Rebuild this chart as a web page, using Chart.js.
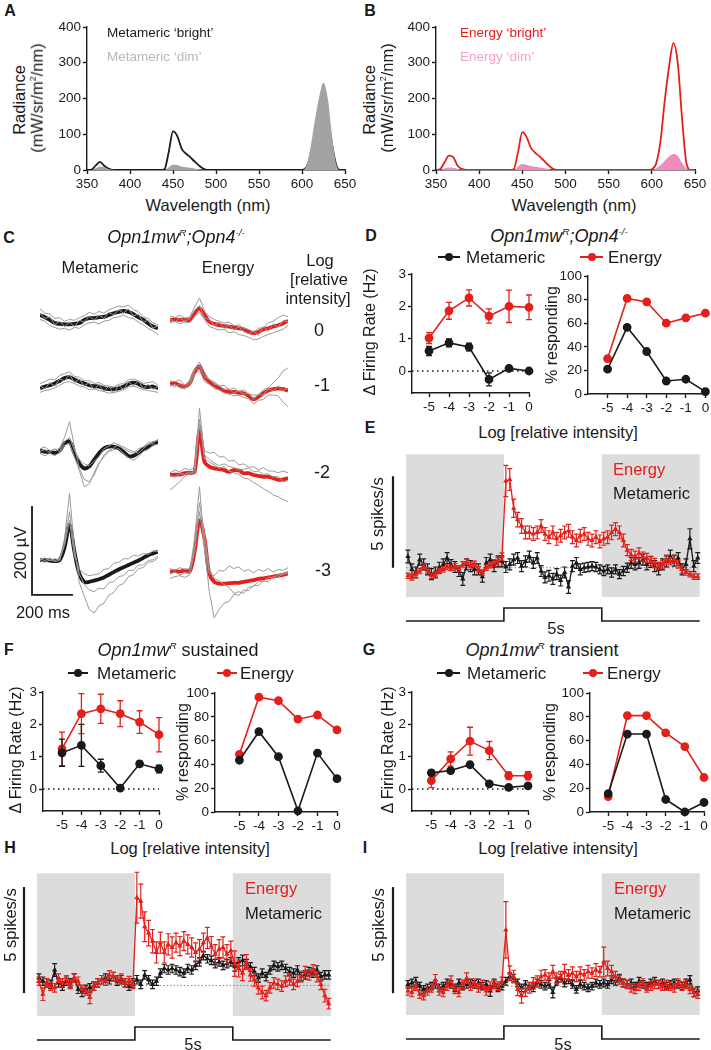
<!DOCTYPE html>
<html>
<head>
<meta charset="utf-8">
<script src="https://cdn.jsdelivr.net/npm/chart.js@4.4.0/dist/chart.umd.min.js"></script>
<style>
  body { margin: 0; background: #fff; }
  #fig { position: relative; width: 711px; height: 1050px; overflow: hidden;
         font-family: "Liberation Sans", Arial, sans-serif; color: #1a1a1a; }
  #fig canvas { position: absolute; }
  .t { position: absolute; white-space: nowrap; line-height: 1; }
  .t sup { font-size: 0.55em; vertical-align: 0.75em; line-height: 0; }
  .mk { position: absolute; }
</style>
</head>
<body>
<div id="fig"></div>
<script>
// ---------- data: spectra (A, B) ----------
const wavelengths = [350,355,360,365,370,375,380,385,390,395,400,405,410,415,420,425,430,435,440,445,450,455,460,465,470,475,480,485,490,495,
  500,505,510,515,520,525,530,535,540,545,550,555,560,565,570,575,580,585,590,595,600,605,610,615,620,625,630,635,640,645,650];
const metaBright = [0,1,12,23,12,4,0,0,0,0,0,0,0,0,0,0,0,0,2,50,108,95,60,46,36,24,13,4,0,0,
  0,0,0,0,0,0,0,0,0,0,0,0,0,0,0,0,0,0,0,0,0,8,40,85,125,158,145,70,12,0,0];
const metaDim = [0,0,5,10,8,3,1,0,0,0,0,0,0,0,0,0,0,0,0,8,15,14,10,8,6,4,2,1,0,0,
  0,0,0,0,0,0,0,0,0,0,0,0,0,0,0,0,0,0,0,0,0,12,65,140,205,244,200,95,15,0,0];
const energyBright = [0,3,22,40,36,12,3,0,0,0,0,0,0,0,0,0,0,0,2,50,106,92,62,48,38,26,14,4,0,0,
  0,0,0,0,0,0,0,0,0,0,0,0,0,0,0,0,0,0,0,0,2,18,80,195,290,355,300,145,20,0,0];
const energyDim = [0,0,5,7,6,3,1,0,0,0,0,0,0,0,0,0,0,0,0,10,17,15,11,9,7,5,3,1,0,0,
  0,0,0,0,0,0,0,0,0,0,0,0,0,0,0,0,0,0,0,0,0,4,14,26,38,45,40,20,4,0,0];
const wavelengthTicks = [350,400,450,500,550,600,650];
const radianceTicks = [0,100,200,300,400];

// ---------- data: example traces (C), microvolts vs ms ----------
const traceMs = [0,24,48,72,96,120,144,168,192,216,240,264,288,312,336,360,384,408,432,456,480,504,528,552,576];
const metaMean0 = [18,13,7,0,-2,-3,-3,-2,0,7,11,11,13,14,18,22,25,27,25,20,13,7,-1,-8,-12];
const metaGray0 = [
  [32,22,20,10,12,4,8,6,12,16,24,20,26,22,30,34,38,36,40,30,26,14,10,0,-4],
  [8,4,-6,-10,-14,-12,-16,-10,-12,-4,0,2,-2,4,6,12,14,18,12,10,2,-4,-12,-18,-26],
  [22,10,14,-4,4,-8,2,-8,6,2,16,6,18,10,24,18,30,22,32,16,20,2,6,-12,-6]];
const energyMean0 = [7,8,7,8,7,22,33,18,3,-2,-5,-7,-8,-10,-12,-14,-20,-23,-20,-14,-12,-8,-5,-1,5];
const energyGray0 = [
  [16,12,18,10,14,36,56,28,14,8,4,0,2,-6,-4,-12,-14,-20,-12,-10,0,4,12,18,14],
  [0,4,-2,2,0,14,24,8,-8,-12,-16,-14,-22,-20,-26,-28,-32,-38,-36,-30,-26,-22,-18,-14,-6],
  [10,2,12,4,10,28,40,12,8,-6,2,-12,-4,-16,-8,-20,-24,-18,-28,-8,-18,-2,-10,6,2]];
const metaMean1 = [-3,1,4,8,14,20,22,17,12,8,4,2,1,-3,-5,-5,-3,1,7,10,7,1,0,1,-3];
const metaGray1 = [
  [8,12,18,16,26,30,34,24,22,14,14,8,10,4,2,0,6,8,16,18,14,8,10,12,4],
  [-12,-8,-6,-2,4,10,12,8,2,0,-6,-4,-8,-10,-14,-12,-10,-6,0,2,-2,-6,-8,-10,-12],
  [2,-4,10,2,18,14,28,10,18,2,10,-6,6,-10,2,-14,4,-6,12,2,14,-4,6,-6,2]];
const energyMean1 = [7,8,4,1,8,34,46,23,12,4,-3,-8,-11,-11,-13,-14,-20,-28,-22,-14,-8,-5,-3,-5,-8];
const energyGray1 = [
  [14,12,16,4,14,40,56,34,16,12,2,4,-6,-2,-10,-6,-16,-18,-18,-6,-2,10,20,36,43],
  [2,6,-2,-4,4,28,38,12,6,-4,-6,-14,-16,-20,-18,-24,-26,-38,-30,-28,-18,-18,-20,-34,-44],
  [6,0,8,-2,10,36,48,22,18,6,4,-6,-4,-14,-8,-16,-14,-28,-16,-18,-4,-8,2,-8,-2]];
const metaMean2 = [10,7,7,5,10,26,30,4,-19,-30,-26,-11,4,15,19,19,15,7,-2,-2,5,13,19,25,30];
const metaGray2 = [
  [14,18,10,12,14,40,75,20,-30,-55,-60,-45,-20,0,10,16,24,14,8,4,14,18,28,30,34],
  [4,-2,4,-2,6,22,26,-4,-35,-71,-65,-40,-18,-4,8,12,14,4,-6,-12,-4,8,12,22,24],
  [8,12,6,14,8,30,40,10,-10,-20,-24,-14,-4,14,20,28,22,18,12,8,4,14,24,26,36]];
const energyMean2 = [-45,-44,-44,-41,-40,-38,56,-15,-26,-30,-32,-34,-38,-34,-35,-41,-41,-45,-47,-49,-49,-52,-56,-55,-52];
const energyGray2 = [
  [-79,-70,-60,-48,-42,-36,105,0,-10,-18,-24,-20,-26,-28,-34,-32,-30,-38,-36,-44,-42,-50,-48,-60,-58],
  [-40,-34,-38,-30,-34,-28,80,-8,-16,-22,-30,-26,-36,-40,-44,-52,-54,-62,-68,-76,-82,-90,-94,-100,-105],
  [-46,-50,-42,-44,-38,-42,70,10,4,6,-4,-4,-14,-12,-22,-20,-28,-26,-34,-28,-36,-36,-40,-36,-40]];
const metaMean3 = [11,11,10,9,11,40,90,30,-20,-38,-38,-35,-32,-28,-22,-16,-10,-5,0,5,10,16,22,26,30];
const metaGray3 = [
  [12,16,10,14,12,60,161,40,-40,-70,-100,-108,-92,-86,-68,-62,-46,-42,-26,-22,-8,-6,6,8,16],
  [10,6,12,8,10,50,120,30,-20,-44,-56,-60,-52,-54,-40,-38,-26,-24,-12,-12,0,0,10,12,20],
  [14,10,16,10,14,44,100,20,-10,-20,-24,-22,-20,-10,-8,4,6,14,14,22,20,26,24,32,30]];
const energyMean3 = [-15,-14,-15,-12,-15,30,100,60,-20,-38,-42,-42,-41,-40,-40,-38,-36,-34,-31,-30,-28,-26,-24,-22,-19];
const energyGray3 = [
  [-20,-16,-22,-18,-18,60,176,40,-60,-119,-100,-86,-82,-66,-68,-56,-58,-46,-46,-36,-38,-26,-28,-18,-20],
  [-8,-12,-6,-10,-8,40,140,70,-10,-30,-36,-44,-50,-64,-60,-64,-50,-48,-38,-36,-28,-28,-22,-22,-14],
  [-30,-26,-24,-28,-22,30,120,50,-20,-24,-12,-14,-2,-8,-4,-14,-10,-18,-10,-14,-8,-16,-10,-12,-6]];
const scaleBarUV = 200, scaleBarMs = 200;

// ---------- data: intensity response (D, F, G) ----------
const logIntensity = [-5,-4,-3,-2,-1,0];
const rateTicks = [0,1,2,3];
const pctTicks = [0,20,40,60,80,100];
const rateEnergyD = [1.02,1.86,2.26,1.7,2.0,1.97];
const rateEnergyDErr = [0.17,0.26,0.25,0.22,0.5,0.38];
const rateMetaD = [0.62,0.87,0.74,-0.26,0.08,0.0];
const rateMetaDErr = [0.14,0.12,0.12,0.2,0.06,0.04];
const pctEnergyD = [30,81,78,60,64.5,68.5];
const pctMetaD = [21,56.5,36,11,12.5,2];
const rateEnergyF = [1.24,2.33,2.48,2.33,2.07,1.68];
const rateEnergyFErr = [0.52,0.62,0.45,0.4,0.35,0.53];
const rateMetaF = [1.12,1.35,0.72,0.03,0.78,0.62];
const rateMetaFErr = [0.42,0.65,0.2,0.04,0.08,0.12];
const pctEnergyF = [48.5,96.5,93.5,78,81.5,69];
const pctMetaF = [43.5,67.5,46.5,1,49.5,28];
const rateEnergyG = [0.26,0.93,1.48,1.19,0.41,0.41];
const rateEnergyGErr = [0.22,0.22,0.43,0.28,0.12,0.13];
const rateMetaG = [0.5,0.57,0.75,0.16,0.05,0.1];
const rateMetaGErr = [0.08,0.06,0.08,0.04,0.03,0.05];
const pctEnergyG = [13,81,81,66.5,55,29];
const pctMetaG = [15.5,65.5,65.5,10.5,0,8];

// ---------- data: PSTHs (E, H, I), spikes/s above baseline ----------
const binTimes = [0.1,0.3,0.5,0.7,0.9,1.1,1.3,1.5,1.7,1.9,2.1,2.3,2.5,2.7,2.9,3.1,3.3,3.5,3.7,3.9,4.1,4.3,4.5,4.7,4.9,
  5.1,5.3,5.5,5.7,5.9,6.1,6.3,6.5,6.7,6.9,7.1,7.3,7.5,7.7,7.9,8.1,8.3,8.5,8.7,8.9,9.1,9.3,9.5,9.7,9.9,
  10.1,10.3,10.5,10.7,10.9,11.1,11.3,11.5,11.7,11.9,12.1,12.3,12.5,12.7,12.9,13.1,13.3,13.5,13.7,13.9,14.1,14.3,14.5,14.7,14.9];
const lightOffRanges = [[0,5],[10,15]];
const stimTimes = [0,5,5,10,10,15];
const stimLevels = [0,0,1,1,0,0];
const energyE = [-0.44,-0.53,-0.35,-0.18,0.09,-0.14,-0.44,-0.35,-0.18,-0.09,0.04,0,0.09,-0.04,0.18,0.32,0.09,0.21,-0.09,-0.26,0,0.14,0.26,0.35,0.61,
  4.74,4.82,3.25,2.63,2.28,1.93,1.93,1.84,1.93,2.28,1.84,1.67,1.93,1.58,1.75,1.93,2.02,1.67,1.49,1.75,1.84,1.58,1.49,1.67,1.44,
  1.58,1.67,1.93,2.11,1.93,1.49,0.96,0.7,0.61,0.79,0.61,0.53,0.35,0.26,0.09,0.18,0.44,0.35,0.44,0.18,-0.09,-0.26,-0.35,-0.49,-0.49];
const energyEErr = [0.15,0.15,0.18,0.15,0.15,0.15,0.15,0.15,0.15,0.15,0.15,0.15,0.15,0.15,0.15,0.15,0.18,0.15,0.15,0.15,0.15,0.15,0.18,0.2,0.2,
  0.85,0.6,0.5,0.4,0.4,0.35,0.35,0.35,0.35,0.35,0.35,0.35,0.35,0.35,0.35,0.35,0.35,0.35,0.35,0.35,0.35,0.35,0.35,0.35,0.35,
  0.35,0.35,0.4,0.35,0.35,0.35,0.3,0.3,0.3,0.3,0.25,0.25,0.25,0.25,0.2,0.2,0.25,0.2,0.2,0.2,0.2,0.15,0.15,0.15,0.15];
const metaE = [0.61,-0.09,-0.26,0.44,0.18,-0.09,-0.35,-0.26,0,0.18,0.53,0.14,0.04,-0.18,-0.61,0.18,0.09,-0.09,-0.09,-0.49,0.26,0.44,0.09,0.35,0.35,
  0.04,0.18,0.44,0.53,0.09,0.35,0.61,0.26,0.53,-0.18,-0.53,-0.44,-0.61,-0.35,-0.7,-0.26,-1.05,0.09,0.26,-0.09,0,0.04,0.09,0.04,-0.09,
  -0.18,-0.09,-0.26,-0.09,-0.35,-0.18,0,0.26,0.18,0.26,0.44,0.18,0.32,0.09,-0.09,0.18,0.35,0.61,0.39,0.53,-0.09,0.18,1.58,0.09,0.53];
const metaEErr = [0.35,0.3,0.3,0.3,0.3,0.3,0.3,0.3,0.3,0.3,0.3,0.3,0.3,0.3,0.35,0.3,0.3,0.3,0.3,0.3,0.3,0.3,0.3,0.3,0.3,
  0.3,0.3,0.3,0.3,0.3,0.3,0.3,0.3,0.3,0.3,0.3,0.3,0.3,0.3,0.3,0.3,0.35,0.3,0.3,0.3,0.25,0.25,0.25,0.25,0.25,
  0.25,0.25,0.25,0.25,0.25,0.25,0.25,0.3,0.3,0.3,0.3,0.3,0.3,0.3,0.3,0.3,0.3,0.35,0.3,0.3,0.3,0.3,0.55,0.3,0.3];
const energyH = [0.2,-0.41,0.12,-0.03,-0.11,0.35,0.12,0.27,0.05,0.35,0.2,-0.18,-0.26,-0.56,-0.03,0.12,0.27,0.2,0.5,0.42,0.27,0.35,0.12,0.23,0.05,
  4.14,3.98,2.77,2.47,2.09,1.56,2.02,1.56,1.94,1.79,2.02,1.86,2.09,1.94,1.79,1.56,1.71,2.02,2.24,1.86,1.48,1.71,1.79,1.48,1.64,
  1.03,0.8,0.58,1.11,0.5,0.27,-0.11,-0.33,-0.48,-0.11,0.12,0.05,-0.03,0.2,0.27,0.05,0.2,0.42,0.65,0.5,0.73,0.42,0.05,-0.48,-0.86];
const energyHErr = [0.2,0.3,0.2,0.2,0.2,0.2,0.2,0.2,0.2,0.2,0.2,0.2,0.2,0.3,0.2,0.2,0.2,0.2,0.2,0.2,0.2,0.2,0.2,0.2,0.2,
  1.2,0.8,0.7,0.6,0.55,0.5,0.5,0.5,0.5,0.5,0.45,0.45,0.45,0.45,0.45,0.45,0.45,0.45,0.5,0.45,0.45,0.45,0.5,0.45,0.45,
  0.6,0.4,0.35,0.35,0.3,0.3,0.3,0.3,0.25,0.25,0.25,0.25,0.25,0.25,0.25,0.25,0.25,0.25,0.25,0.25,0.25,0.25,0.25,0.3,0.25];
const metaH = [0.35,0.2,0.12,0.05,0.73,0.12,-0.03,0.2,0.12,0.35,-0.18,-0.33,-0.18,-0.11,-0.03,0.12,0.27,0.35,0.27,0.42,0.2,0.27,0.12,-0.03,0.12,
  0.27,0.05,0.5,0.27,0.05,0.2,0.58,0.8,0.73,0.8,0.73,0.65,0.58,0.8,0.73,0.95,1.11,1.41,1.26,1.18,1.03,1.11,0.95,1.03,1.11,
  0.88,1.11,1.18,1.03,0.88,0.65,0.35,0.58,0.42,0.73,0.95,0.88,0.95,0.8,0.65,0.58,0.73,0.42,0.5,0.65,0.58,0.73,0.42,0.5,0.5];
const metaHErr = [0.2,0.2,0.2,0.2,0.3,0.2,0.2,0.2,0.2,0.2,0.2,0.2,0.2,0.2,0.2,0.2,0.2,0.2,0.2,0.2,0.2,0.2,0.2,0.2,0.2,
  0.2,0.2,0.2,0.2,0.2,0.2,0.2,0.2,0.2,0.2,0.2,0.2,0.2,0.2,0.2,0.2,0.2,0.2,0.2,0.2,0.2,0.2,0.2,0.2,0.2,
  0.2,0.2,0.25,0.2,0.2,0.2,0.2,0.2,0.2,0.2,0.2,0.2,0.2,0.2,0.2,0.2,0.2,0.2,0.2,0.2,0.2,0.2,0.2,0.2,0.2];
const energyI = [-0.23,-0.3,0,-0.38,-0.45,-0.23,-0.08,0.3,-0.23,-0.3,0,0.23,-0.15,-0.3,0.08,0.38,0,0.15,-0.08,0.08,-0.23,0,0.08,0,0.23,
  2.65,0.61,0.45,-0.15,-0.45,-0.23,-0.08,0.15,0.23,0.45,0.53,0.38,0.68,0.38,0.45,0.68,0.53,0.61,0.45,0.61,0.53,0.68,0.61,0.76,0.68,
  1.14,0.83,0.68,0.45,0.3,0.15,0.08,-0.08,-0.15,0,0.15,-0.08,0,0.08,0.08,0,0.08,0,-0.08,0.15,0,0.08,-0.15,-0.3,-0.38];
const energyIErr = [0.2,0.2,0.2,0.2,0.2,0.2,0.2,0.25,0.2,0.2,0.2,0.25,0.2,0.2,0.2,0.25,0.2,0.2,0.2,0.2,0.2,0.2,0.2,0.2,0.2,
  1.33,0.35,0.3,0.3,0.35,0.25,0.25,0.25,0.25,0.3,0.25,0.25,0.3,0.25,0.25,0.35,0.25,0.3,0.25,0.3,0.25,0.3,0.25,0.3,0.25,
  0.7,0.35,0.3,0.25,0.2,0.2,0.2,0.2,0.2,0.2,0.2,0.2,0.2,0.2,0.2,0.2,0.2,0.2,0.2,0.2,0.2,0.2,0.2,0.2,0.2];
const metaI = [0.08,0.15,0.23,0,-0.15,-0.08,0,0.08,-0.08,0,0.15,0.08,-0.08,0.15,0,0.08,0.15,0.08,0.15,0,0.08,-0.23,0.15,-0.08,0,
  0.23,0.45,0.38,0.15,-0.08,0.08,0,-0.08,0.15,0.08,0,0.08,-0.3,0.23,0.38,0.15,0.3,0.08,-0.15,0.08,0,-0.08,0,0.15,0.08,
  0.15,0.08,0.3,0.23,0.38,0.15,0.08,0.15,0,0.23,0.08,0,0.15,0.23,0.08,0.15,0,0.08,0.15,0.08,0,0.15,0.3,-0.3,-0.23];
const metaIErr = [0.18,0.18,0.18,0.18,0.18,0.18,0.18,0.18,0.18,0.18,0.18,0.18,0.18,0.18,0.18,0.18,0.18,0.18,0.18,0.18,0.18,0.25,0.18,0.18,0.18,
  0.18,0.18,0.18,0.18,0.18,0.18,0.18,0.18,0.18,0.18,0.18,0.18,0.25,0.18,0.18,0.18,0.18,0.18,0.18,0.18,0.18,0.18,0.18,0.18,0.18,
  0.18,0.18,0.18,0.18,0.18,0.18,0.18,0.18,0.18,0.18,0.18,0.18,0.18,0.18,0.18,0.18,0.18,0.18,0.18,0.18,0.18,0.18,0.2,0.2,0.2];

// ---------- styling ----------
const RED = '#e3201b', BLACK = '#1a1a1a', TRACE_GRAY = '#9a9a9a', PINK = '#f08cbb', PINK_TXT = '#f3a2c8',
      GRAY_FILL = '#a3a3a3', GRAY_TXT = '#b8b8b8', SHADE = '#dcdcdc';
Chart.defaults.font.family = '"Liberation Sans", Arial, sans-serif';
Chart.defaults.font.size = 13.5;
Chart.defaults.color = BLACK;

const fig = document.getElementById('fig');

// ---------- plugins ----------
Chart.register({
  id: 'shade',
  beforeDatasetsDraw(chart, args, o) {
    if (!o.ranges) return;
    const { ctx, chartArea: a, scales: { x } } = chart;
    ctx.save();
    ctx.fillStyle = o.color;
    o.ranges.forEach(r => {
      const x0 = x.getPixelForValue(r[0]), x1 = x.getPixelForValue(r[1]);
      ctx.fillRect(x0, a.top, x1 - x0, a.bottom - a.top);
    });
    ctx.restore();
  }
});
Chart.register({
  id: 'zeroLine',
  beforeDatasetsDraw(chart, args, o) {
    if (o.value === undefined) return;
    const { ctx, chartArea: a, scales: { y } } = chart;
    const py = y.getPixelForValue(o.value);
    ctx.save();
    ctx.strokeStyle = o.color; ctx.lineWidth = o.width; ctx.setLineDash(o.dash);
    ctx.beginPath(); ctx.moveTo(a.left, py); ctx.lineTo(a.right, py); ctx.stroke();
    ctx.restore();
  }
});
Chart.register({
  id: 'errorBars',
  afterDatasetDraw(chart, args) {
    const ds = chart.data.datasets[args.index];
    if (!ds.errors) return;
    const ctx = chart.ctx, y = chart.scales.y, cap = ds.cap || 3;
    ctx.save();
    ctx.strokeStyle = ds.borderColor;
    ctx.lineWidth = ds.errWidth || 1.3;
    args.meta.data.forEach((pt, j) => {
      const e = ds.errors[j];
      if (!e) return;
      const y1 = y.getPixelForValue(ds.data[j] + e), y2 = y.getPixelForValue(ds.data[j] - e);
      ctx.beginPath();
      ctx.moveTo(pt.x, y1); ctx.lineTo(pt.x, y2);
      ctx.moveTo(pt.x - cap, y1); ctx.lineTo(pt.x + cap, y1);
      ctx.moveTo(pt.x - cap, y2); ctx.lineTo(pt.x + cap, y2);
      ctx.stroke();
    });
    ctx.restore();
  }
});
Chart.register({
  id: 'rateBar',
  afterDraw(chart, args, o) {
    if (o.from === undefined) return;
    const { ctx, chartArea: a, scales: { y } } = chart;
    const px = a.left - o.offset;
    ctx.save();
    ctx.strokeStyle = BLACK; ctx.lineWidth = 2.2;
    ctx.beginPath(); ctx.moveTo(px, y.getPixelForValue(o.from)); ctx.lineTo(px, y.getPixelForValue(o.to)); ctx.stroke();
    ctx.restore();
  }
});
Chart.register({
  id: 'stim',
  afterDraw(chart, args, o) {
    if (!o.times) return;
    const { ctx, chartArea: a, scales: { x } } = chart;
    ctx.save();
    ctx.strokeStyle = BLACK; ctx.lineWidth = 1.6;
    ctx.beginPath();
    o.times.forEach((t, i) => {
      const px = x.getPixelForValue(t), py = a.bottom + o.base - o.levels[i] * o.rise;
      if (i === 0) ctx.moveTo(px, py); else ctx.lineTo(px, py);
    });
    ctx.stroke();
    ctx.restore();
  }
});
Chart.register({
  id: 'traceBar',
  afterDraw(chart, args, o) {
    if (o.ms === undefined) return;
    const { ctx, scales: { x, y } } = chart;
    const x0 = x.getPixelForValue(o.atMs), y0 = y.getPixelForValue(o.atUV);
    ctx.save();
    ctx.strokeStyle = BLACK; ctx.lineWidth = 1.8;
    ctx.beginPath();
    ctx.moveTo(x0, y.getPixelForValue(o.atUV + o.uv));
    ctx.lineTo(x0, y0);
    ctx.lineTo(x.getPixelForValue(o.atMs + o.ms), y0);
    ctx.stroke();
    ctx.restore();
  }
});

// ---------- helpers ----------
function addChart(b, config) {
  const c = document.createElement('canvas');
  const w = b.r - b.l + b.ml + b.mr, h = b.b - b.t + b.mt + b.mb;
  c.width = w; c.height = h;
  c.style.left = (b.l - b.ml) + 'px'; c.style.top = (b.t - b.mt) + 'px';
  c.style.width = w + 'px'; c.style.height = h + 'px';
  fig.appendChild(c);
  const o = config.options;
  o.responsive = false; o.animation = false; o.devicePixelRatio = 1; o.events = [];
  o.plugins = Object.assign({ legend: { display: false }, tooltip: { enabled: false } }, o.plugins || {});
  o.layout = { padding: b.axes
    ? { left: 0, top: b.mt, right: b.mr, bottom: 0 }
    : { left: b.ml, top: b.mt, right: b.mr, bottom: b.mb } };
  return new Chart(c, config);
}

function axis(min, max, ticks, size) {
  return {
    type: 'linear', min, max,
    afterBuildTicks: s => { s.ticks = ticks.map(v => ({ value: v })); },
    afterFit: s => {
      if (s.isHorizontal()) s.height = size; else s.width = size;
      s.paddingLeft = s.paddingRight = s.paddingTop = s.paddingBottom = 0;
    },
    border: { display: true, color: BLACK, width: 1.4 },
    grid: { display: true, drawOnChartArea: false, drawTicks: true, tickLength: 4, color: BLACK, tickColor: BLACK, tickWidth: 1.4 },
    ticks: { padding: 2, color: BLACK, autoSkip: false, maxRotation: 0, font: { size: 13.5 } }
  };
}

function text(html, x, y, o = {}) {
  const d = document.createElement('div');
  d.className = 't';
  d.innerHTML = html;
  d.style.left = x + 'px'; d.style.top = y + 'px';
  d.style.fontSize = (o.size || 16.5) + 'px';
  if (o.color) d.style.color = o.color;
  if (o.bold) d.style.fontWeight = 'bold';
  d.style.transform = (o.left ? 'translate(0,-50%)' : 'translate(-50%,-50%)') + (o.rotate ? ' rotate(-90deg)' : '');
  fig.appendChild(d);
}

function legendMark(x0, x1, y, color) {
  const l = document.createElement('div');
  l.className = 'mk';
  l.style.cssText += `left:${x0}px;top:${y - 1}px;width:${x1 - x0}px;height:2px;background:${color}`;
  const d = document.createElement('div');
  d.className = 'mk';
  d.style.cssText += `left:${(x0 + x1) / 2 - 4}px;top:${y - 4}px;width:8px;height:8px;border-radius:50%;background:${color}`;
  fig.appendChild(l); fig.appendChild(d);
}

// ---------- A, B: spectra ----------
function spectrum(b, dim, bright, dimColor, brightColor) {
  addChart(b, {
    type: 'line',
    data: { labels: wavelengths, datasets: [
      { data: dim, borderWidth: 0, borderColor: dimColor, backgroundColor: dimColor, fill: 'origin', pointRadius: 0, cubicInterpolationMode: 'monotone' },
      { data: bright, borderWidth: 1.8, borderColor: brightColor, fill: false, pointRadius: 0, cubicInterpolationMode: 'monotone' }
    ] },
    options: { scales: { x: axis(350, 650, wavelengthTicks, 22), y: axis(0, 400, radianceTicks, 50) } }
  });
}
spectrum({ l: 87, t: 27, r: 345, b: 170, ml: 50, mt: 8, mr: 14, mb: 22, axes: true }, metaDim, metaBright, GRAY_FILL, BLACK);
spectrum({ l: 436, t: 27, r: 695, b: 170, ml: 50, mt: 8, mr: 14, mb: 22, axes: true }, energyDim, energyBright, PINK, RED);

// ---------- C: traces ----------
function traceCell(l, r, center, mean, grays, color, bar) {
  const datasets = grays.map(g => ({ data: g, borderColor: TRACE_GRAY, borderWidth: 1, pointRadius: 0, tension: 0, clip: false }));
  datasets.push({ data: mean, borderColor: color, borderWidth: 3.8, pointRadius: 0, tension: 0.35, clip: false });
  addChart({ l, t: center - 80, r, b: center + 80, ml: bar ? 12 : 0, mt: 0, mr: 0, mb: 0 }, {
    type: 'line',
    data: { labels: traceMs, datasets },
    options: {
      scales: { x: { type: 'linear', display: false, min: 0, max: 576 }, y: { display: false, min: -180, max: 180 } },
      plugins: bar ? { traceBar: { ms: scaleBarMs, uv: scaleBarUV, atMs: -39, atUV: -67 } } : {}
    }
  });
}
traceCell(40, 158, 323, metaMean0, metaGray0, BLACK);
traceCell(170, 288, 323, energyMean0, energyGray0, RED);
traceCell(40, 158, 387, metaMean1, metaGray1, BLACK);
traceCell(170, 288, 387, energyMean1, energyGray1, RED);
traceCell(40, 158, 455, metaMean2, metaGray2, BLACK);
traceCell(170, 288, 455, energyMean2, energyGray2, RED);
traceCell(40, 158, 565, metaMean3, metaGray3, BLACK, true);
traceCell(170, 288, 565, energyMean3, energyGray3, RED);

// ---------- D, F, G: intensity response ----------
function rateChart(b, xmin, energy, energyErr, meta, metaErr) {
  addChart(b, {
    type: 'line',
    data: { labels: logIntensity, datasets: [
      { data: meta, errors: metaErr, borderColor: BLACK, backgroundColor: BLACK, borderWidth: 1.6, pointRadius: 3.6, clip: false },
      { data: energy, errors: energyErr, borderColor: RED, backgroundColor: RED, borderWidth: 1.6, pointRadius: 3.6, clip: false }
    ] },
    options: {
      scales: { x: axis(xmin, 0, logIntensity, 22), y: axis(-0.68, 3, rateTicks, 30) },
      plugins: { zeroLine: { value: 0, color: BLACK, width: 1.4, dash: [1.5, 3.5] } }
    }
  });
}
function pctChart(b, xmin, energy, meta) {
  addChart(b, {
    type: 'line',
    data: { labels: logIntensity, datasets: [
      { data: meta, borderColor: BLACK, backgroundColor: BLACK, borderWidth: 1.6, pointRadius: 3.6, clip: false },
      { data: energy, borderColor: RED, backgroundColor: RED, borderWidth: 1.6, pointRadius: 3.6, clip: false }
    ] },
    options: { scales: { x: axis(xmin, 0, logIntensity, 22), y: axis(0, 100, pctTicks, 36) } }
  });
}
rateChart({ l: 412, t: 274, r: 529, b: 393, ml: 30, mt: 8, mr: 6, mb: 22, axes: true }, -5.85, rateEnergyD, rateEnergyDErr, rateMetaD, rateMetaDErr);
pctChart({ l: 588, t: 276, r: 707, b: 394, ml: 36, mt: 8, mr: 4, mb: 22, axes: true }, -6.0, pctEnergyD, pctMetaD);
rateChart({ l: 43, t: 692, r: 159, b: 811, ml: 30, mt: 8, mr: 6, mb: 22, axes: true }, -5.98, rateEnergyF, rateEnergyFErr, rateMetaF, rateMetaFErr);
pctChart({ l: 215, t: 693, r: 337, b: 812, ml: 36, mt: 8, mr: 6, mb: 22, axes: true }, -6.25, pctEnergyF, pctMetaF);
rateChart({ l: 412, t: 692, r: 528, b: 811, ml: 30, mt: 8, mr: 6, mb: 22, axes: true }, -6.0, rateEnergyG, rateEnergyGErr, rateMetaG, rateMetaGErr);
pctChart({ l: 590, t: 693, r: 704, b: 812, ml: 36, mt: 8, mr: 6, mb: 22, axes: true }, -5.95, pctEnergyG, pctMetaG);

// ---------- E, H, I: PSTHs ----------
function psth(b, ymin, ymax, energy, energyErr, meta, metaErr, barFrom, barTo) {
  const common = { borderWidth: 1.3, pointRadius: 1.8, pointStyle: 'triangle', cap: 2.5, errWidth: 1.2, clip: false };
  addChart(b, {
    type: 'line',
    data: { labels: binTimes, datasets: [
      Object.assign({ data: energy, errors: energyErr, borderColor: RED, backgroundColor: RED }, common),
      Object.assign({ data: meta, errors: metaErr, borderColor: BLACK, backgroundColor: BLACK }, common)
    ] },
    options: {
      scales: { x: { type: 'linear', display: false, min: 0, max: 15 }, y: { display: false, min: ymin, max: ymax } },
      plugins: {
        shade: { ranges: lightOffRanges, color: SHADE },
        zeroLine: { value: 0, color: '#8a8a8a', width: 1, dash: [1.5, 2] },
        rateBar: { from: barFrom, to: barTo, offset: 13 },
        stim: { times: stimTimes, levels: stimLevels, base: 24, rise: 13 }
      }
    }
  });
}
psth({ l: 406, t: 449, r: 705, b: 597, ml: 20, mt: 0, mr: 0, mb: 40 }, -1.6, 6.2, energyE, energyEErr, metaE, metaEErr, 0, 5);
psth({ l: 37, t: 868, r: 336, b: 1016, ml: 20, mt: 0, mr: 0, mb: 34 }, -1.44, 5.29, energyH, energyHErr, metaH, metaHErr, -0.36, 4.64);
psth({ l: 406, t: 868, r: 705, b: 1015, ml: 20, mt: 0, mr: 0, mb: 35 }, -1.36, 5.32, energyI, energyIErr, metaI, metaIErr, -0.33, 4.67);

// ---------- text ----------
const GENO = '<i>Opn1mw<sup>R</sup>;Opn4<sup>-/-</sup></i>';
[['A', 10, 11], ['B', 370, 11], ['C', 9, 238], ['D', 371, 236], ['E', 370, 428],
 ['F', 9, 650], ['G', 369, 650], ['H', 10, 848], ['I', 365, 848]].forEach(p => text(p[0], p[1], p[2], { bold: true, size: 16 }));

text('Radiance', 19, 100, { rotate: true });
text('(mW/sr/m<sup>2</sup>/nm)', 37, 98, { rotate: true });
text('Radiance', 369, 100, { rotate: true });
text('(mW/sr/m<sup>2</sup>/nm)', 387, 98, { rotate: true });
text('Wavelength (nm)', 208, 205);
text('Wavelength (nm)', 574, 205);
text('Metameric ‘bright’', 107, 33, { left: true, size: 13.5 });
text('Metameric ‘dim’', 107, 57, { left: true, size: 13.5, color: GRAY_TXT });
text('Energy ‘bright’', 460, 33, { left: true, size: 13.5, color: RED });
text('Energy ‘dim’', 460, 57, { left: true, size: 13.5, color: PINK_TXT });

text(GENO, 176, 237, { size: 18 });
text('Metameric', 100, 267);
text('Energy', 228, 267);
text('Log', 320, 260);
text('[relative', 319, 279);
text('intensity]', 318, 298);
text('0', 319, 330, { size: 18 });
text('-1', 322, 385, { size: 18 });
text('-2', 322, 472, { size: 18 });
text('-3', 323, 570, { size: 18 });
text('200 µV', 20, 553, { rotate: true });
text('200 ms', 43, 612);

text(GENO, 559, 236, { size: 18 });
legendMark(438, 460, 257, BLACK); text('Metameric', 466, 257, { left: true, size: 17 });
legendMark(580, 603, 257, RED); text('Energy', 608, 257, { left: true, size: 17 });
text('Δ Firing Rate (Hz)', 370, 332, { rotate: true, size: 16 });
text('% responding', 552, 335, { rotate: true, size: 16 });
text('Log [relative intensity]', 558, 432);

text('5 spikes/s', 377, 514, { rotate: true });
text('Energy', 613, 469, { left: true, color: RED });
text('Metameric', 613, 493, { left: true });
text('5s', 556, 628);

text('<i>Opn1mw<sup>R</sup></i> sustained', 178, 650, { size: 18 });
legendMark(68, 88, 673, BLACK); text('Metameric', 97, 673, { left: true, size: 17 });
legendMark(217, 237, 673, RED); text('Energy', 240, 673, { left: true, size: 17 });
text('Δ Firing Rate (Hz)', 16, 750, { rotate: true, size: 16 });
text('% responding', 183, 752, { rotate: true, size: 16 });
text('Log [relative intensity]', 190, 848);

text('<i>Opn1mw<sup>R</sup></i> transient', 542, 650, { size: 18 });
legendMark(437, 460, 673, BLACK); text('Metameric', 467, 673, { left: true, size: 17 });
legendMark(583, 603, 673, RED); text('Energy', 607, 673, { left: true, size: 17 });
text('Δ Firing Rate (Hz)', 388, 750, { rotate: true, size: 16 });
text('% responding', 550, 752, { rotate: true, size: 16 });
text('Log [relative intensity]', 558, 848);

text('5 spikes/s', 10, 925, { rotate: true });
text('Energy', 245, 888, { left: true, color: RED });
text('Metameric', 245, 913, { left: true });
text('5s', 193, 1044);

text('5 spikes/s', 378, 925, { rotate: true });
text('Energy', 614, 888, { left: true, color: RED });
text('Metameric', 614, 913, { left: true });
text('5s', 563, 1044);
</script>
</body>
</html>
